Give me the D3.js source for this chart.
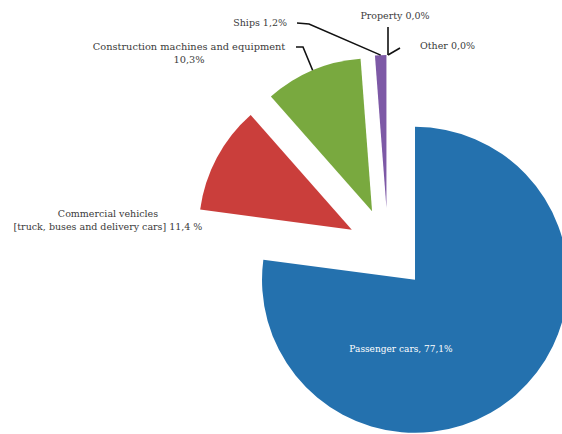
<!DOCTYPE html>
<html>
<head>
<meta charset="utf-8">
<script src="https://cdn.jsdelivr.net/npm/d3@7"></script>
<style>
  body { margin: 0; background: #fff; }
  svg { display: block; }
  text { font-family: "DejaVu Serif", serif; }
</style>
</head>
<body>
<div id="chart"></div>
<script>
// data
var categories = ["Passenger cars", "Commercial vehicles", "Construction machines and equipment", "Ships", "Property", "Other"]
var shares = [77.1, 11.4, 10.3, 1.2, 0.0, 0.0]
var shareText = ["77,1%", "11,4 %", "10,3%", "1,2%", "0,0%", "0,0%"]
var colors = ["#2471ae", "#ca3e3b", "#79a93f", "#7d59a6", "#999999", "#999999"]

var width = 562, height = 434
var cx = 388, cy = 249      // pie centre
var radius = 153
var explode = 41

var svg = d3.select("#chart")
  .append("svg")
    .attr("width", width)
    .attr("height", height)

var pie = d3.pie().sort(null).value(function(d) { return d })
var arcs = pie(shares)

var arc = d3.arc().innerRadius(0).outerRadius(radius)

function offset(a, dist) {
  return [Math.sin(a) * dist, -Math.cos(a) * dist]
}
function mid(d) { return (d.startAngle + d.endAngle) / 2 }

// slices (zero slices have no area, skip them)
var g = svg.append("g").attr("transform", "translate(" + cx + "," + cy + ")")
g.selectAll("path")
  .data(arcs.filter(function(d) { return d.value > 0 }))
  .enter()
  .append("path")
    .attr("d", arc)
    .attr("transform", function(d) {
      var o = offset(mid(d), explode)
      return "translate(" + o[0] + "," + o[1] + ")"
    })
    .style("fill", function(d) { return colors[d.index] })

// point on the outer edge of a slice, used for leader lines
function edgePoint(d) {
  var a = mid(d)
  var o = offset(a, explode)
  var p = offset(a, radius)
  return [cx + o[0] + p[0], cy + o[1] + p[1]]
}

// label layout: lines of text, anchor, and bend points of leader
var labels = [
  { i: 0, lines: [categories[0] + ", " + shareText[0]], x: 401, y: 348, anchor: "middle", fill: "#fff", size: 9, leader: null },
  { i: 1, lines: [categories[1], "[truck, buses and delivery cars] " + shareText[1]], x: 108, y: 213, anchor: "middle", leader: null },
  { i: 2, lines: [categories[2], shareText[2]], x: 189, y: 46, anchor: "middle", size: 9.8, leader: [[303, 47], [296, 47]] },
  { i: 3, lines: [categories[3] + " " + shareText[3]], x: 287, y: 22, anchor: "end", leader: [[309, 24], [297, 23]] },
  { i: 4, lines: [categories[4] + " " + shareText[4]], x: 395, y: 15, anchor: "middle", leader: [[388, 27]] },
  { i: 5, lines: [categories[5] + " " + shareText[5]], x: 420, y: 45, anchor: "start", leader: [[400, 48]] }
]

var line = d3.line()

labels.forEach(function(l) {
  if (l.leader) {
    var pts = [edgePoint(arcs[l.i])].concat(l.leader)
    svg.append("path")
      .attr("d", line(pts))
      .attr("fill", "none")
      .attr("stroke", "#111")
      .attr("stroke-width", 1.6)
  }
  var t = svg.append("text")
    .attr("text-anchor", l.anchor)
    .style("font-size", (l.size || 9.5) + "px")
    .style("fill", l.fill || "#3a3a3a")
  l.lines.forEach(function(s, k) {
    t.append("tspan")
      .attr("x", l.x)
      .attr("y", l.y + 3.5 + k * 13.5)
      .text(s)
  })
})
</script>
</body>
</html>
